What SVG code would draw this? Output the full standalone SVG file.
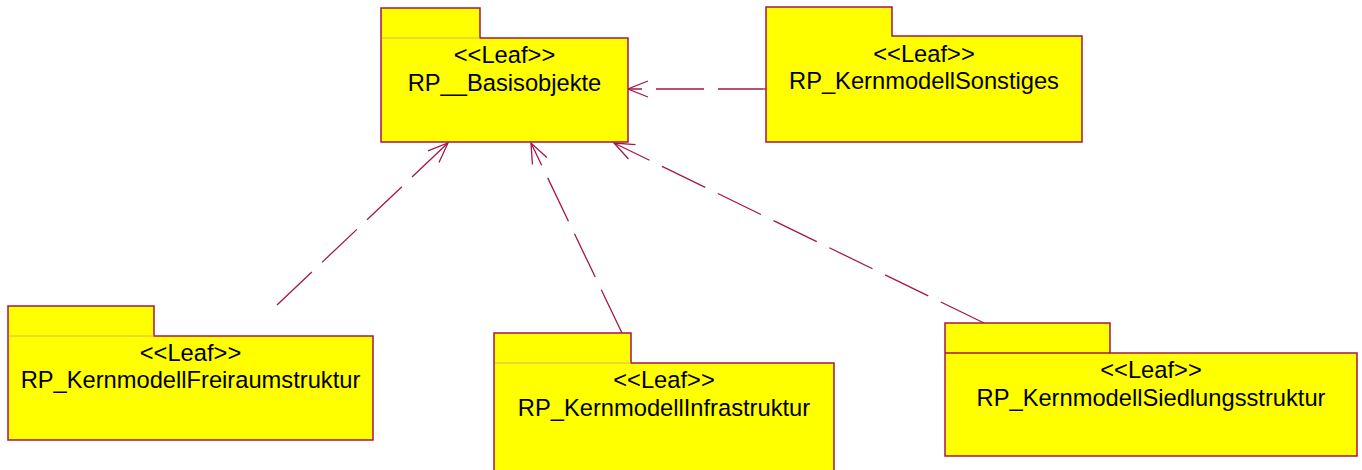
<svg xmlns="http://www.w3.org/2000/svg" width="1362" height="470" viewBox="0 0 1362 470">
<style>
.pkg{fill:#ffff00;stroke:#a3174a;stroke-width:1.5}
.sep{stroke:#e0b060;stroke-width:1}
.sepd{stroke:#a3174a;stroke-width:1.5}
.t{font-family:"Liberation Sans",Arial,sans-serif;font-size:23.7px;fill:#000;text-anchor:middle}
.dep{fill:none;stroke:#a3174a;stroke-width:1.3;stroke-dasharray:48 14;marker-end:url(#open)}
</style>
<defs>
<marker id="open" markerUnits="userSpaceOnUse" markerWidth="30" markerHeight="24" refX="0" refY="0" viewBox="-22 -12 30 24" orient="auto" overflow="visible">
<path d="M-20,-8 L0,0 L-20,8" fill="none" stroke="#a3174a" stroke-width="1.3" stroke-dasharray="none"/>
</marker>
</defs>
<rect width="1362" height="470" fill="#fff"/>
<g id="connectors">
<line class="dep" x1="766" y1="89" x2="628" y2="89"/>
<line class="dep" x1="277" y1="305" x2="448" y2="143"/>
<line class="dep" x1="622" y1="333" x2="531" y2="143"/>
<line class="dep" x1="984" y1="323" x2="614" y2="143"/>
</g>
<g id="RP__Basisobjekte">
<path class="pkg" d="M381,8 H480 V38 H628 V142 H381 Z"/>
<line class="sep" x1="382" y1="38" x2="480" y2="38"/>
<text class="t" x="504.5" y="63">&lt;&lt;Leaf&gt;&gt;</text>
<text class="t" x="504.5" y="91">RP__Basisobjekte</text>
</g>
<g id="RP_KernmodellSonstiges">
<path class="pkg" d="M766,7 H892 V36 H1082 V142 H766 Z"/>
<text class="t" x="924" y="62">&lt;&lt;Leaf&gt;&gt;</text>
<text class="t" x="924" y="89">RP_KernmodellSonstiges</text>
</g>
<g id="RP_KernmodellFreiraumstruktur">
<path class="pkg" d="M8,306 H154 V336 H373 V440 H8 Z"/>
<line class="sep" x1="9" y1="336" x2="154" y2="336"/>
<text class="t" x="190.5" y="361">&lt;&lt;Leaf&gt;&gt;</text>
<text class="t" x="190.5" y="388">RP_KernmodellFreiraumstruktur</text>
</g>
<g id="RP_KernmodellInfrastruktur">
<path class="pkg" d="M494,333 H631 V363 H834 V476 H494 Z"/>
<line class="sep" x1="495" y1="363" x2="631" y2="363"/>
<text class="t" x="664" y="388">&lt;&lt;Leaf&gt;&gt;</text>
<text class="t" x="664" y="416">RP_KernmodellInfrastruktur</text>
</g>
<g id="RP_KernmodellSiedlungsstruktur">
<path class="pkg" d="M945,323 H1110 V353 H1357 V456 H945 Z"/>
<line class="sepd" x1="945" y1="353" x2="1110" y2="353"/>
<text class="t" x="1151" y="378">&lt;&lt;Leaf&gt;&gt;</text>
<text class="t" x="1151" y="406">RP_KernmodellSiedlungsstruktur</text>
</g>
</svg>
